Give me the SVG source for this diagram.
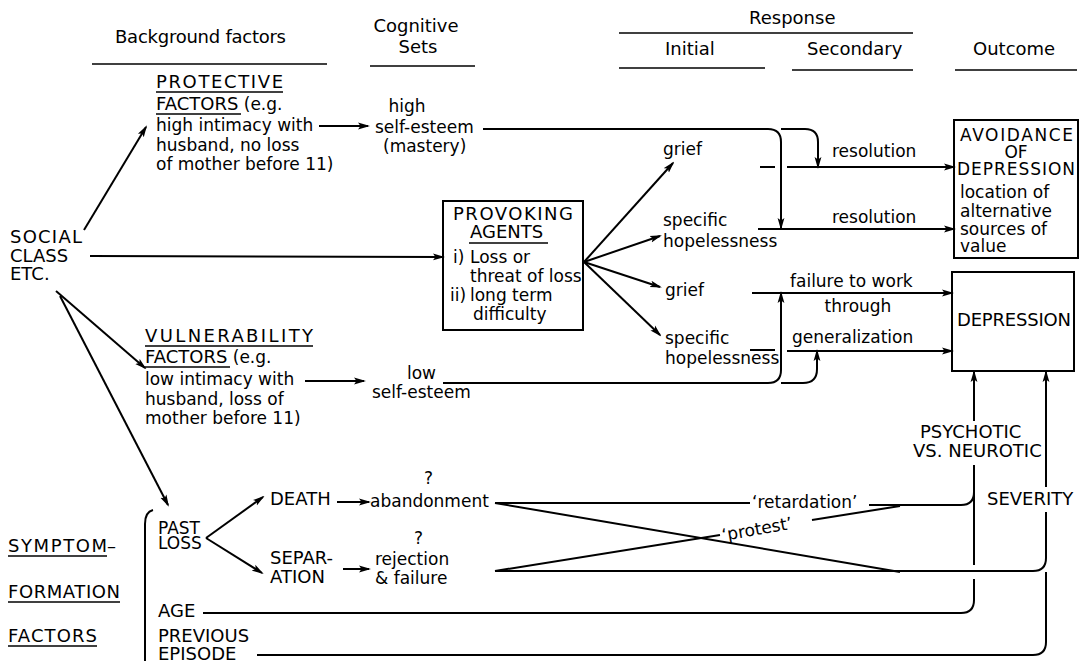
<svg xmlns="http://www.w3.org/2000/svg" width="1081" height="661" viewBox="0 0 1081 661">
<style>
text{font-family:"DejaVu Sans","Liberation Sans",sans-serif;font-size:17px;fill:#000}
.h{font-size:18px}
.c{font-size:18px}
.ln{stroke:#000;stroke-width:2;fill:none}
.ul{stroke:#000;stroke-width:1.6;fill:none}
.hl{stroke:#000;stroke-width:1.6;fill:none}
.box{stroke:#000;stroke-width:2;fill:#fff}
.ar{marker-end:url(#a)}
</style>
<defs>
<marker id="a" viewBox="0 0 12 8" refX="10" refY="4" markerWidth="12" markerHeight="8" markerUnits="userSpaceOnUse" orient="auto">
<path d="M0,0.6 L12,4 L0,7.4 L2.5,4 z" fill="#000"/>
</marker>
</defs>
<rect width="1081" height="661" fill="#fff"/>

<g id="headers">
<text class="h" x="115" y="43" textLength="171">Background factors</text>
<line class="hl" x1="92" y1="64" x2="327" y2="64"/>
<text class="h" x="416" y="32" text-anchor="middle">Cognitive</text>
<text class="h" x="418" y="53" text-anchor="middle">Sets</text>
<line class="hl" x1="370" y1="66" x2="475" y2="66"/>
<text class="h" x="749" y="24">Response</text>
<line class="hl" x1="619" y1="33" x2="913" y2="33"/>
<text class="h" x="665" y="55">Initial</text>
<line class="hl" x1="619" y1="68" x2="765" y2="68"/>
<text class="h" x="807" y="55">Secondary</text>
<line class="hl" x1="792" y1="70" x2="913" y2="70"/>
<text class="h" x="973" y="55">Outcome</text>
<line class="hl" x1="955" y1="70" x2="1077" y2="70"/>
</g>

<g id="social-class">
<text class="c" x="10" y="243" textLength="72">SOCIAL</text>
<text class="c" x="10" y="262">CLASS</text>
<text class="c" x="10" y="280">ETC.</text>
</g>

<g id="protective-factors">
<text class="c" x="156" y="88" textLength="127">PROTECTIVE</text>
<line class="ul" x1="156" y1="92" x2="283" y2="92"/>
<text x="156" y="110"><tspan class="c">FACTORS</tspan> (e.g.</text>
<line class="ul" x1="156" y1="114" x2="241" y2="114"/>
<text x="156" y="131">high intimacy with</text>
<text x="156" y="151">husband, no loss</text>
<text x="156" y="170">of mother before 11)</text>
</g>

<g id="high-self-esteem">
<text x="407" y="112" text-anchor="middle">high</text>
<text x="375" y="133">self-esteem</text>
<text x="383" y="152">(mastery)</text>
</g>

<g id="vulnerability-factors">
<text class="c" x="145" y="342" textLength="168">VULNERABILITY</text>
<line class="ul" x1="145" y1="346" x2="313" y2="346"/>
<text x="145" y="363"><tspan class="c">FACTORS</tspan> (e.g.</text>
<line class="ul" x1="145" y1="367" x2="230" y2="367"/>
<text x="145" y="385">low intimacy with</text>
<text x="145" y="405">husband, loss of</text>
<text x="145" y="424">mother before 11)</text>
</g>

<g id="low-self-esteem">
<text x="407" y="379">low</text>
<text x="372" y="398">self-esteem</text>
</g>

<g id="provoking-agents">
<rect class="box" x="443" y="201" width="140" height="129"/>
<text class="c" x="453" y="220" textLength="120">PROVOKING</text>
<text class="c" x="470" y="238">AGENTS</text>
<line class="ul" x1="469" y1="243" x2="548" y2="243"/>
<text x="453" y="263">i)</text>
<text x="470" y="263">Loss or</text>
<text x="470" y="282">threat of loss</text>
<text x="450" y="301">ii)</text>
<text x="470" y="301">long term</text>
<text x="473" y="320">difficulty</text>
</g>

<g id="grief-1"><text x="663" y="155">grief</text></g>
<g id="specific-hopelessness-1">
<text x="663" y="226">specific</text>
<text x="663" y="247">hopelessness</text>
</g>
<g id="grief-2"><text x="665" y="296">grief</text></g>
<g id="specific-hopelessness-2">
<text x="665" y="344">specific</text>
<text x="665" y="364">hopelessness</text>
</g>

<g id="avoidance-of-depression">
<rect class="box" x="954" y="120" width="124" height="138"/>
<text class="c" x="960" y="141" textLength="113" style="font-size:17px">AVOIDANCE</text>
<text class="c" x="1016" y="158" text-anchor="middle" style="font-size:17px">OF</text>
<text class="c" x="957" y="175" textLength="118" style="font-size:17px">DEPRESSION</text>
<text x="960" y="198">location of</text>
<text x="960" y="217">alternative</text>
<text x="960" y="235">sources of</text>
<text x="960" y="252">value</text>
</g>

<g id="depression">
<rect class="box" x="952" y="272" width="122" height="99"/>
<text class="c" x="957" y="326" textLength="114">DEPRESSION</text>
</g>

<g id="psychotic-vs-neurotic">
<text class="c" x="920" y="438">PSYCHOTIC</text>
<text class="c" x="913" y="457">VS. NEUROTIC</text>
</g>
<g id="severity"><text class="c" x="987" y="505">SEVERITY</text></g>

<g id="symptom-formation-factors">
<text class="c" x="8" y="552" textLength="99">SYMPTOM</text>
<text class="c" x="107" y="552">–</text>
<line class="ul" x1="8" y1="556" x2="107" y2="556"/>
<text class="c" x="8" y="598" textLength="112">FORMATION</text>
<line class="ul" x1="8" y1="602" x2="120" y2="602"/>
<text class="c" x="8" y="642" textLength="89">FACTORS</text>
<line class="ul" x1="8" y1="646" x2="97" y2="646"/>
<path class="ln" d="M153,510 Q145,512 145,524 V661" stroke-width="1.6"/>
</g>

<g id="past-loss">
<text class="c" x="158" y="534" style="font-size:17px">PAST</text>
<text class="c" x="158" y="549" style="font-size:17px">LOSS</text>
</g>
<g id="death"><text class="c" x="270" y="505">DEATH</text></g>
<g id="separation">
<text class="c" x="270" y="564">SEPAR-</text>
<text class="c" x="270" y="583">ATION</text>
</g>
<g id="abandonment">
<text x="424" y="484">?</text>
<text x="370" y="507">abandonment</text>
</g>
<g id="rejection-failure">
<text x="414" y="544">?</text>
<text x="375" y="565">rejection</text>
<text x="375" y="584">&amp; failure</text>
</g>
<g id="age"><text class="c" x="158" y="617">AGE</text></g>
<g id="previous-episode">
<text class="c" x="158" y="642">PREVIOUS</text>
<text class="c" x="158" y="660">EPISODE</text>
</g>

<g id="connectors">
<line class="ln ar" x1="84" y1="230" x2="146" y2="127"/>
<line class="ln ar" x1="90" y1="256" x2="443" y2="257"/>
<line class="ln ar" x1="56" y1="291" x2="145" y2="368"/>
<line class="ln ar" x1="60" y1="296" x2="168" y2="505"/>
<line class="ln ar" x1="319" y1="126" x2="368" y2="126"/>
<line class="ln ar" x1="305" y1="381" x2="364" y2="381"/>
<path class="ln ar" d="M483,129 H768 Q781,129 781,142 V228"/>
<path class="ln ar" d="M781,129 H805 Q818,129 818,142 V167"/>
<line class="ln ar" x1="584" y1="262" x2="673" y2="163"/>
<line class="ln ar" x1="584" y1="262" x2="660" y2="236"/>
<line class="ln ar" x1="584" y1="262" x2="660" y2="287"/>
<line class="ln ar" x1="584" y1="262" x2="660" y2="335"/>
<line class="ln" x1="760" y1="167" x2="775" y2="167"/>
<line class="ln ar" x1="787" y1="167" x2="954" y2="167"/>
<text x="832" y="157">resolution</text>
<line class="ln ar" x1="758" y1="229" x2="954" y2="229"/>
<text x="832" y="223">resolution</text>
<path class="ln ar" d="M443,383 H768 Q781,383 781,370 V293"/>
<path class="ln ar" d="M781,383 H803 Q817,383 817,369 V351"/>
<line class="ln ar" x1="752" y1="293" x2="952" y2="293"/>
<line class="ln" x1="750" y1="350" x2="775" y2="350"/>
<line class="ln ar" x1="787" y1="351" x2="952" y2="351"/>
<text x="790" y="287">failure to work</text>
<text x="858" y="312" text-anchor="middle">through</text>
<text x="792" y="343">generalization</text>
<line class="ln ar" x1="974" y1="421" x2="974" y2="372"/>
<line class="ln ar" x1="1046" y1="487" x2="1046" y2="372"/>
<line class="ln ar" x1="206" y1="538" x2="263" y2="497"/>
<line class="ln ar" x1="206" y1="538" x2="262" y2="573"/>
<line class="ln ar" x1="337" y1="502" x2="369" y2="502"/>
<line class="ln ar" x1="343" y1="569" x2="369" y2="569"/>
<line class="ln" x1="495" y1="503" x2="750" y2="503"/>
<text x="752" y="508">‘retardation’</text>
<path class="ln" d="M869,505 H961 Q974,505 974,492"/>
<line class="ln" x1="495" y1="503" x2="900" y2="572"/>
<line class="ln" x1="495" y1="571" x2="720" y2="535"/>
<text x="723" y="541" transform="rotate(-10 723 541)">‘protest’</text>
<line class="ln" x1="812" y1="520" x2="900" y2="506"/>
<path class="ln" d="M495,571 H1033 Q1046,571 1046,558 V512"/>
<line class="ln" x1="974" y1="465" x2="974" y2="565"/>
<path class="ln" d="M203,613 H961 Q974,613 974,600 V579"/>
<path class="ln" d="M257,655 H1033 Q1046,655 1046,642 V572"/>
</g>
</svg>
